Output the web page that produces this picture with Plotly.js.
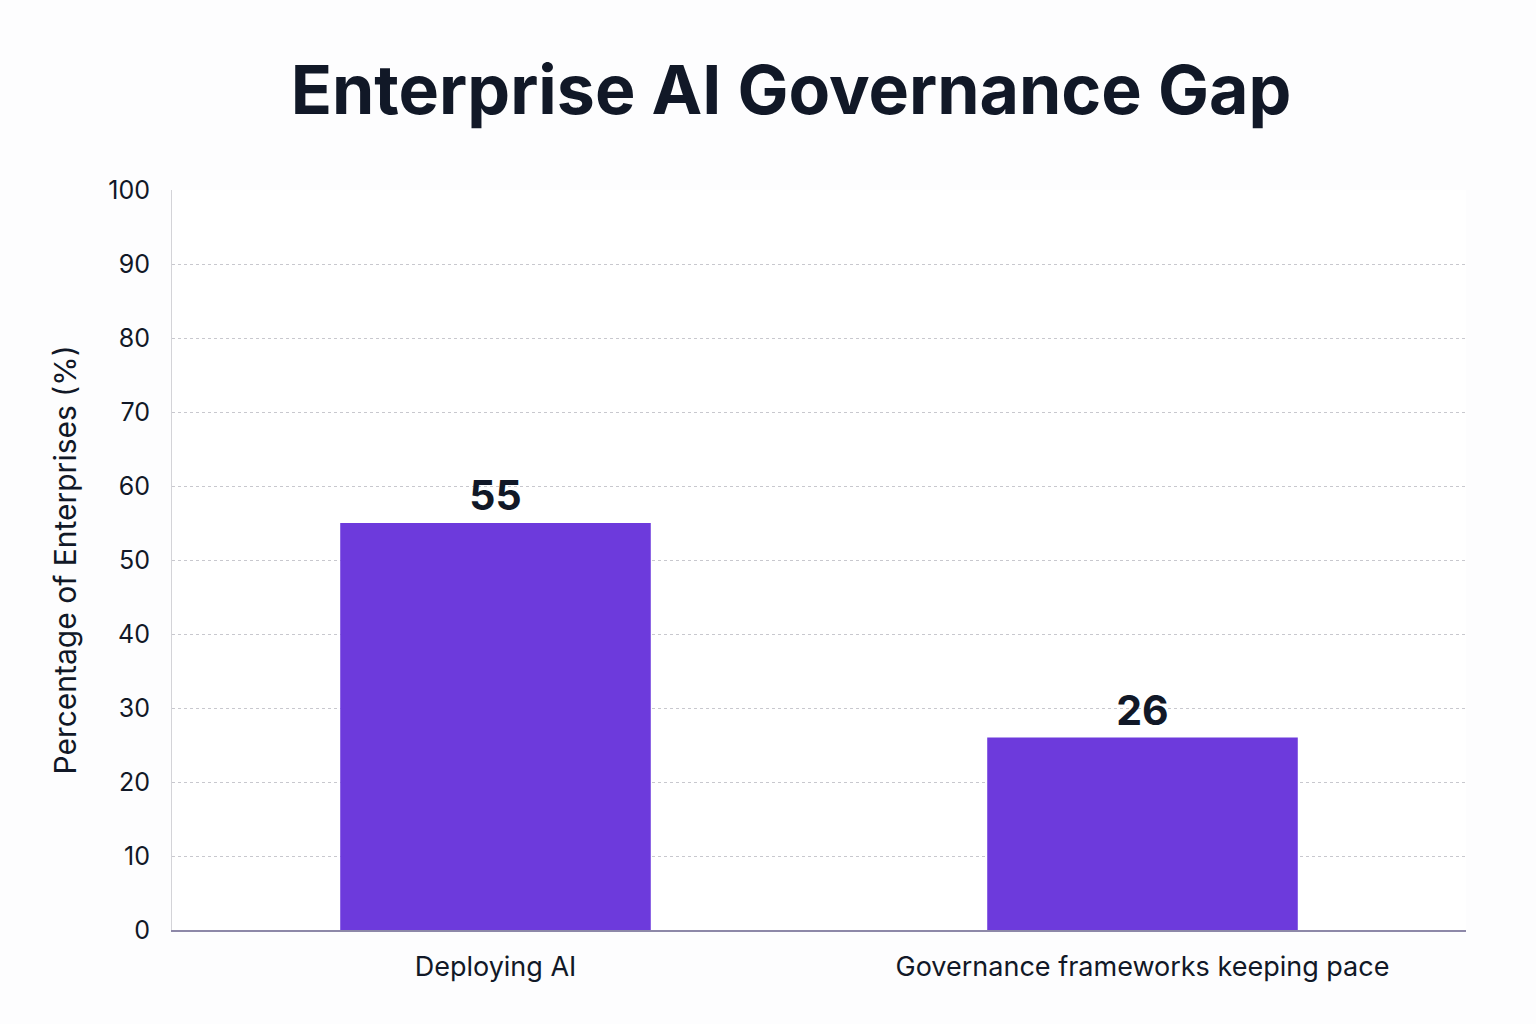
<!DOCTYPE html>
<html>
<head>
<meta charset="utf-8">
<script src="https://cdn.plot.ly/plotly-3.0.1.min.js"></script>
<style>
  html, body { margin: 0; padding: 0; background: #fdfdfe; }
  #chart { width: 1536px; height: 1024px; }
</style>
</head>
<body>
<div id="chart"></div>
<script>
// categories and values
var categories = ['Deploying AI', 'Governance frameworks keeping pace'];
var percentages = [55, 26];
var labels = ['55', '26'];

var trace = {
  x: categories,
  y: percentages,
  type: 'bar',
  marker: { color: '#6d3adc' },
  text: labels,
  textposition: 'outside',
  textfont: { family: 'Inter, sans-serif', size: 41, color: '#111827', weight: 700 },
  cliponaxis: false,
  hoverinfo: 'none'
};

var layout = {
  width: 1536,
  height: 1024,
  paper_bgcolor: '#fdfdfe',
  plot_bgcolor: '#ffffff',
  margin: { l: 172, r: 70, t: 190, b: 94 },
  title: {
    text: '<b>Enterprise AI Governance Gap</b>',
    font: { family: 'Inter, sans-serif', size: 68, color: '#111827' },
    x: 0.515,
    xanchor: 'center',
    y: 0.912,
    yanchor: 'middle'
  },
  bargap: 0.52,
  xaxis: {
    tickfont: { family: 'Inter, sans-serif', size: 27, color: '#111827' },
    ticks: '',
    ticklabelstandoff: 12,
    showline: true,
    linecolor: '#8d88a8',
    linewidth: 1.5,
    showgrid: false,
    zeroline: false
  },
  yaxis: {
    range: [0, 100],
    dtick: 10,
    tickfont: { family: 'Inter, sans-serif', size: 25, color: '#111827' },
    ticks: '',
    ticklabelstandoff: 16,
    showline: true,
    linecolor: '#d4d4d8',
    linewidth: 1,
    gridcolor: '#c8c8ce',
    griddash: 'dot',
    gridwidth: 1,
    zeroline: false,
    title: {
      text: 'Percentage of Enterprises (%)',
      font: { family: 'Inter, sans-serif', size: 30, color: '#111827' },
      standoff: 22
    }
  },
  showlegend: false
};

Plotly.newPlot('chart', [trace], layout, { displayModeBar: false, staticPlot: true });
</script>
</body>
</html>
